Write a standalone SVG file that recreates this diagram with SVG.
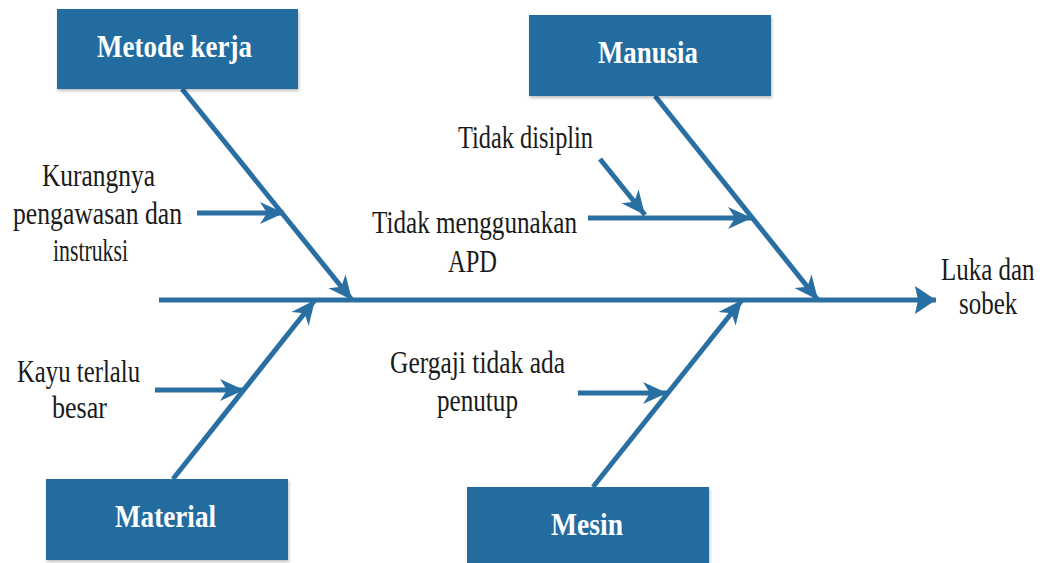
<svg xmlns="http://www.w3.org/2000/svg" width="1049" height="563" viewBox="0 0 1049 563">
  <style>
    .box { fill: #236c9f; }
    .boxtxt { font-family: "Liberation Serif", "Times New Roman", serif; font-size: 32px; font-weight: bold; fill: #ffffff; }
    .lbl { font-family: "Liberation Serif", "Times New Roman", serif; font-size: 32px; fill: #1a1a1a; }
    .bone { stroke: #2a6fa2; stroke-width: 5; fill: none; }
  </style>
  <defs>
    <marker id="ah" markerUnits="userSpaceOnUse" viewBox="-26 -13 28 26" markerWidth="28" markerHeight="26" refX="0" refY="0" orient="auto">
      <path d="M0,0 L-24,-11 L-17,0 L-24,11 Z" fill="#2a6fa2"/>
    </marker>
    <marker id="ahBig" markerUnits="userSpaceOnUse" viewBox="-24 -16 26 32" markerWidth="26" markerHeight="32" refX="0" refY="0" orient="auto">
      <path d="M0,0 L-21,-14 L-18,0 L-21,14 Z" fill="#2a6fa2"/>
    </marker>
    <filter id="sh" x="-5%" y="-5%" width="110%" height="115%">
      <feDropShadow dx="1" dy="2" stdDeviation="1.5" flood-color="#000" flood-opacity="0.25"/>
    </filter>
  </defs>
  <rect width="1049" height="563" fill="#ffffff"/>

  <g id="connectors">
    <line class="bone" x1="159" y1="300" x2="936" y2="300" marker-end="url(#ahBig)"/>
    <line class="bone" x1="182" y1="89" x2="352" y2="300" marker-end="url(#ah)"/>
    <line class="bone" x1="655" y1="96" x2="818" y2="300" marker-end="url(#ah)"/>
    <line class="bone" x1="173" y1="479" x2="315" y2="300" marker-end="url(#ah)"/>
    <line class="bone" x1="593" y1="487" x2="742" y2="300" marker-end="url(#ah)"/>
    <line class="bone" x1="197" y1="213" x2="284" y2="213" marker-end="url(#ah)"/>
    <line class="bone" x1="155" y1="390" x2="244" y2="390" marker-end="url(#ah)"/>
    <line class="bone" x1="588" y1="218" x2="752" y2="218" marker-end="url(#ah)"/>
    <line class="bone" x1="600" y1="159" x2="645" y2="215" marker-end="url(#ah)"/>
    <line class="bone" x1="578" y1="393" x2="667" y2="393" marker-end="url(#ah)"/>
  </g>

  <g id="node-metode">
    <rect class="box" x="57" y="9" width="241" height="80" filter="url(#sh)"/>
    <text class="boxtxt" x="97" y="57" textLength="155" lengthAdjust="spacingAndGlyphs">Metode kerja</text>
  </g>
  <g id="node-manusia">
    <rect class="box" x="529" y="15" width="242" height="81" filter="url(#sh)"/>
    <text class="boxtxt" x="598" y="63" textLength="100" lengthAdjust="spacingAndGlyphs">Manusia</text>
  </g>
  <g id="node-material">
    <rect class="box" x="46" y="479" width="242" height="81" filter="url(#sh)"/>
    <text class="boxtxt" x="115" y="527" textLength="101" lengthAdjust="spacingAndGlyphs">Material</text>
  </g>
  <g id="node-mesin">
    <rect class="box" x="467" y="487" width="242" height="80" filter="url(#sh)"/>
    <text class="boxtxt" x="551" y="535" textLength="72" lengthAdjust="spacingAndGlyphs">Mesin</text>
  </g>

  <g id="label-kurangnya">
    <text class="lbl" x="42" y="186" textLength="113" lengthAdjust="spacingAndGlyphs">Kurangnya</text>
    <text class="lbl" x="13" y="224" textLength="169" lengthAdjust="spacingAndGlyphs">pengawasan dan</text>
    <text class="lbl" x="53" y="261" textLength="75" lengthAdjust="spacingAndGlyphs">instruksi</text>
  </g>
  <g id="label-kayu">
    <text class="lbl" x="17" y="382" textLength="123" lengthAdjust="spacingAndGlyphs">Kayu terlalu</text>
    <text class="lbl" x="52" y="418" textLength="55" lengthAdjust="spacingAndGlyphs">besar</text>
  </g>
  <g id="label-disiplin">
    <text class="lbl" x="458" y="148" textLength="135" lengthAdjust="spacingAndGlyphs">Tidak disiplin</text>
  </g>
  <g id="label-apd">
    <text class="lbl" x="372" y="233" textLength="205" lengthAdjust="spacingAndGlyphs">Tidak menggunakan</text>
    <text class="lbl" x="448" y="272" textLength="49" lengthAdjust="spacingAndGlyphs">APD</text>
  </g>
  <g id="label-gergaji">
    <text class="lbl" x="390" y="373" textLength="175" lengthAdjust="spacingAndGlyphs">Gergaji tidak ada</text>
    <text class="lbl" x="437" y="411" textLength="81" lengthAdjust="spacingAndGlyphs">penutup</text>
  </g>
  <g id="node-effect">
    <text class="lbl" transform="translate(941 280) scale(0.78 1)">Luka dan</text>
    <text class="lbl" transform="translate(959 314) scale(0.78 1)">sobek</text>
  </g>
</svg>
